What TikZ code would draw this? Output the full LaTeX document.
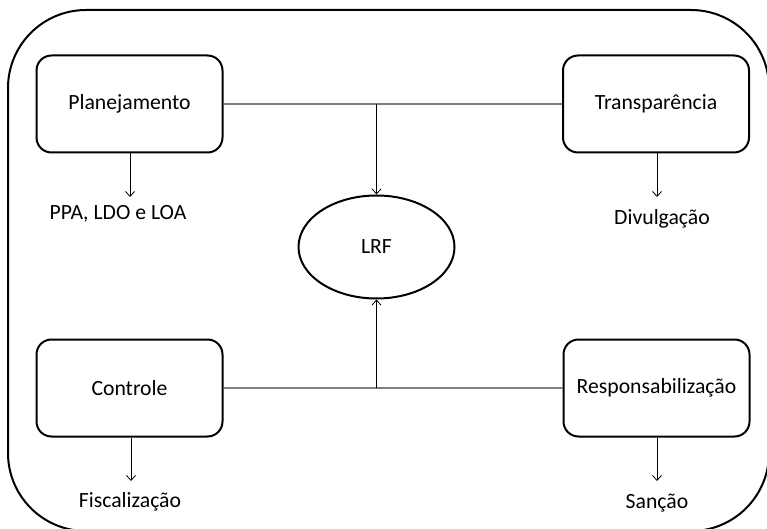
\documentclass[tikz,border=0pt]{standalone}
\usepackage{fontspec}
\setmainfont{Carlito}
\usetikzlibrary{arrows.meta,shapes.geometric}

\begin{document}
\begin{tikzpicture}[x=1pt,y=-1pt,>={Straight Barb[length=5pt,width=9pt]},
                    font=\fontsize{21.7}{26}\selectfont,
                    main node/.style={rectangle,rounded corners=15pt,draw,line width=2pt,
                                      minimum width=186pt,minimum height=97pt},
                    sub node/.style={inner sep=0pt}]
  \useasboundingbox (0,0) rectangle (767,529);

  % outer frame
  \draw[line width=2pt,rounded corners=78pt] (8,10) rectangle (769,531);

  \node[main node] (plan) at (129.5,104) {Planejamento};
  \node[main node] (transp) at (656,104) {Transparência};
  \node[main node] (ctrl) at (129.5,388) {Controle};
  \node[main node] (resp) at (656.5,388) {Responsabilização};
  \node[ellipse,draw,line width=2pt,minimum width=156pt,minimum height=103pt] (lrf) at (376.5,247) {LRF};

  \node[sub node] (ppa) at (118,214) {PPA, LDO e LOA};
  \node[sub node] (divulg) at (662,219) {Divulgação};
  \node[sub node] (fisc) at (130,502) {Fiscalização};
  \node[sub node] (sancao) at (657,503) {Sanção};

  \coordinate (top) at (376.5,104);
  \coordinate (bottom) at (376.5,388);

  \draw[gray,line width=1.2pt] (plan) -- (transp);
  \draw[gray,line width=1.2pt] (ctrl) -- (resp);
  \path[->,line width=0.8pt]
    (top) edge (lrf)
    (bottom) edge (lrf)
    (plan.south -| 130,0) edge (130,197)
    (transp.south -| 657,0) edge (657,197)
    (ctrl.south -| 131,0) edge (131,481)
    (resp.south -| 657,0) edge (657,481);
\end{tikzpicture}
\end{document}
